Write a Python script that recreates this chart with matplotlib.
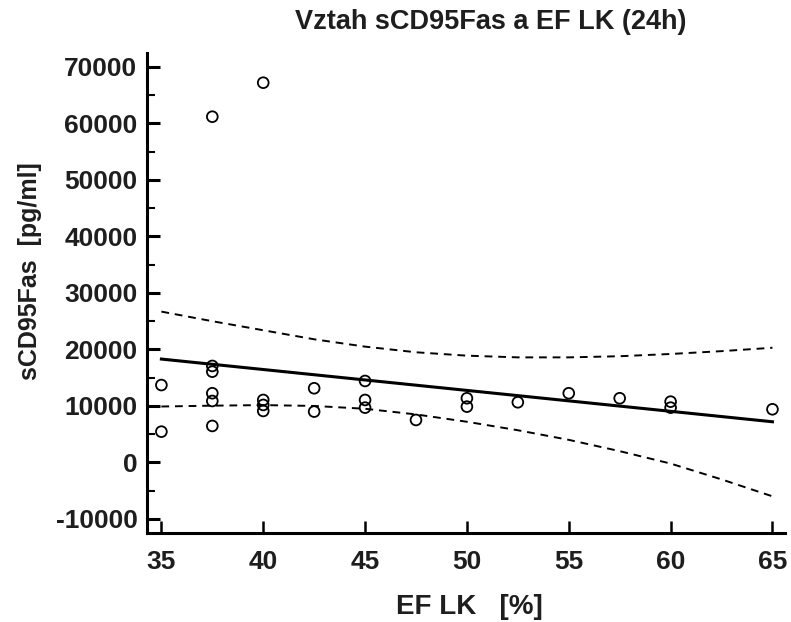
import numpy as np
import matplotlib.pyplot as plt
from matplotlib.ticker import MultipleLocator

# data
ef = [35, 35,
      37.5, 37.5, 37.5, 37.5, 37.5, 37.5,
      40, 40, 40, 40,
      42.5, 42.5,
      45, 45, 45,
      47.5,
      50, 50,
      52.5,
      55,
      57.5,
      60, 60,
      65]
fas = [13700, 5450,
       61200, 17080, 16070, 12250, 10880, 6460,
       67220, 11060, 10180, 9110,
       13130, 9000,
       14420, 11060, 9700,
       7520,
       11360, 9880,
       10650,
       12250,
       11360,
       10760, 9700,
       9410]

# regression line (ends)
fit_x = [35, 65]
fit_y = [18300, 7200]

# confidence band
band_x = [35, 37.5, 40, 42.5, 45, 47.5, 50, 52.5, 55, 57.5, 60, 62.5, 65]
up_y = [26700, 25000, 23400, 21800, 20500, 19500, 18900, 18600, 18600, 18800, 19200, 19700, 20300]
lo_y = [9900, 10050, 10150, 10000, 9500, 8500, 7200, 5700, 4000, 2000, -200, -3000, -6000]

plt.rcParams['font.family'] = ['Liberation Sans', 'DejaVu Sans']
txt = '#1e1e1e'

fig = plt.figure(figsize=(7.91, 6.22), dpi=100)
ax = fig.add_axes([0.186, 0.143, 0.806, 0.772])

ax.plot(fit_x, fit_y, color='black', lw=2.2)
ax.plot(band_x, up_y, color='black', lw=1.4, ls=(0, (4, 3)))
ax.plot(band_x, lo_y, color='black', lw=1.4, ls=(0, (4, 3)))
ax.scatter(ef, fas, s=60, facecolors='none', edgecolors='black', linewidths=1.3, zorder=3)

ax.set_xlim(34.3, 65.6)
ax.set_ylim(-12500, 72500)
ax.set_xticks([35, 40, 45, 50, 55, 60, 65])
ax.yaxis.set_major_locator(MultipleLocator(10000))
ax.yaxis.set_minor_locator(MultipleLocator(5000))
ax.yaxis.set_major_formatter(lambda v, p: '%d' % v)

for sp in ['top', 'right']:
    ax.spines[sp].set_visible(False)
for sp in ['left', 'bottom']:
    ax.spines[sp].set_linewidth(2.2)

ax.tick_params(axis='y', which='major', direction='in', length=9.5, width=2.2,
               labelsize=19, pad=7, labelcolor=txt)
ax.tick_params(axis='y', which='minor', direction='in', length=5.5, width=1.5)
ax.tick_params(axis='x', which='major', direction='in', length=9, width=1.8,
               labelsize=19, pad=12, labelcolor=txt)
for lab in ax.get_yticklabels() + ax.get_xticklabels():
    lab.set_fontweight('bold')

fig.text(0.594, 0.024, 'EF LK   [%]', ha='center', va='center',
         fontsize=20, fontweight='bold', color=txt)
fig.text(0.038, 0.564, 'sCD95Fas  [pg/ml]', ha='center', va='center', rotation=90,
         fontsize=18, fontweight='bold', color=txt)
fig.text(0.621, 0.965, 'Vztah sCD95Fas a EF LK (24h)', ha='center', va='center',
         fontsize=19.5, fontweight='bold', color=txt)

fig.savefig('out.png', dpi=100)
